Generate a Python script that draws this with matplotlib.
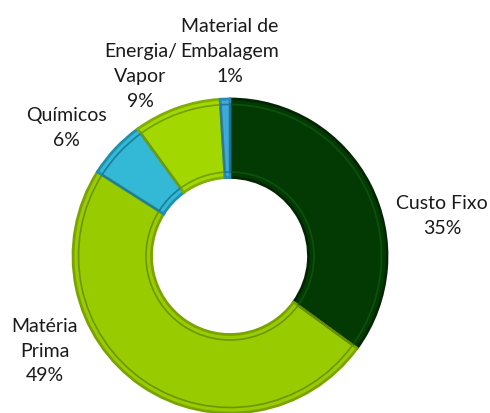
import matplotlib.pyplot as plt

categories = ['Custo Fixo', 'Matéria\nPrima', 'Químicos', 'Energia/\nVapor', 'Material de\nEmbalagem']
values = [35, 49, 6, 9, 1]
colors = ['#033a03', '#99cc00', '#33b8d6', '#a2d800', '#3fa9d9']
edges = ['#022602', '#7aa300', '#1f8fae', '#7fae00', '#2a88b4']
bevels = ['#0c520c', '#6f9400', '#1a7d99', '#739e00', '#2378a0']

# label centres, in units of the outer radius
label_pos = [(1.35, 0.26), (-1.18, -0.60), (-1.04, 0.82), (-0.57, 1.15), (0.0, 1.31)]

plt.rcParams['font.family'] = ['Lato', 'DejaVu Sans']

fig = plt.figure(figsize=(4.9, 4.14), dpi=100)
ax = fig.add_axes([0, 0, 1, 1])

wedges, _ = ax.pie(values, colors=colors, startangle=90, counterclock=False,
                   radius=1.0, wedgeprops=dict(width=0.5, linewidth=2.0))
for w, ec in zip(wedges, edges):
    w.set_edgecolor(ec)

# inner bevel line
inner, _ = ax.pie(values, startangle=90, counterclock=False, radius=0.965,
                  wedgeprops=dict(width=0.43, fill=False, linewidth=1.2))
for w, ec in zip(inner, bevels):
    w.set_edgecolor(ec)

total = sum(values)
for name, v, (x, y) in zip(categories, values, label_pos):
    ax.text(x, y, '%s\n%d%%' % (name, round(100 * v / total)), ha='center', va='center',
            fontsize=14, color='#1a1a1a', linespacing=1.55)

ax.set_xlim(-230 / 157, 260 / 157)
ax.set_ylim(-157 / 157, 257 / 157)
ax.set_aspect('equal')
ax.axis('off')

fig.savefig('out.png', dpi=100)
